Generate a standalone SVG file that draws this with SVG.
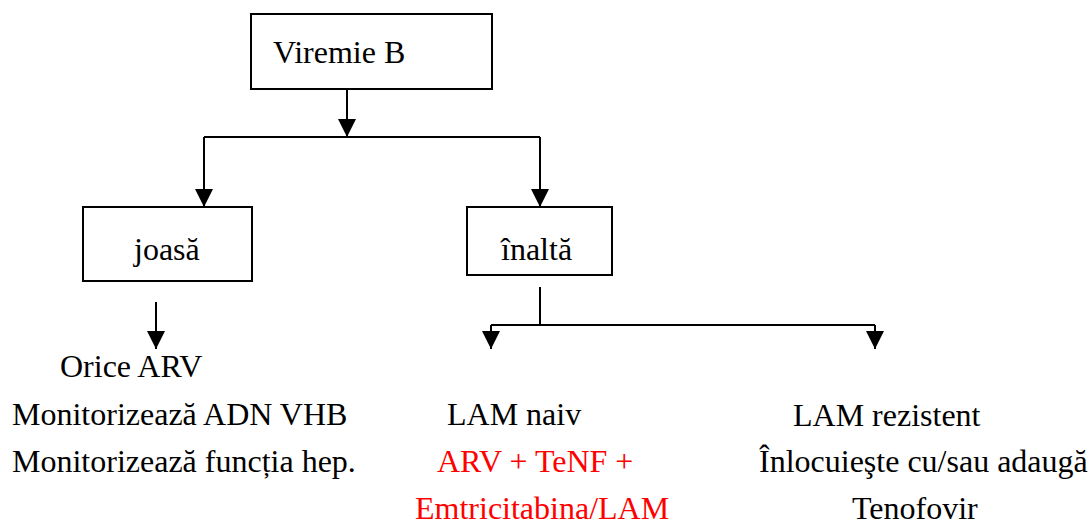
<svg xmlns="http://www.w3.org/2000/svg" width="1091" height="525" viewBox="0 0 1091 525">
<defs>
<marker id="ah" markerUnits="userSpaceOnUse" markerWidth="18" markerHeight="18" viewBox="0 0 16 16" refX="16" refY="8" orient="auto">
<path d="M0,0 L16,8 L0,16 Z" fill="#000"/>
</marker>
</defs>
<style>
.box{fill:#fff;stroke:#000;stroke-width:2}
.red{fill:#ff0000}
.c{fill:none;stroke:#000;stroke-width:2}
</style>
<rect width="1091" height="525" fill="#fff"/>
<g id="connectors">
<path class="c" d="M347,89 V137" marker-end="url(#ah)"/>
<path class="c" d="M204,137 H540"/>
<path class="c" d="M204,137 V207" marker-end="url(#ah)"/>
<path class="c" d="M540,137 V207" marker-end="url(#ah)"/>
<path class="c" d="M156,302 V349" marker-end="url(#ah)"/>
<path class="c" d="M540,287 V325"/>
<path class="c" d="M491,325 H875"/>
<path class="c" d="M491,325 V349" marker-end="url(#ah)"/>
<path class="c" d="M875,325 V349" marker-end="url(#ah)"/>
</g>
<g font-family="Liberation Serif, 'Times New Roman', serif" font-size="32" fill="#000">
<g id="viremie">
<rect class="box" x="251" y="14" width="241" height="75"/>
<text x="273" y="63">Viremie B</text>
</g>
<g id="joasa">
<rect class="box" x="83" y="207" width="169" height="74"/>
<text x="134" y="260">joasă</text>
</g>
<g id="inalta">
<rect class="box" x="467" y="207" width="145" height="68"/>
<text x="501" y="260">înaltă</text>
</g>
<g id="left-text">
<text x="60" y="377">Orice ARV</text>
<text x="12" y="425">Monitorizează ADN VHB</text>
<text x="12" y="472">Monitorizează funcția hep.</text>
</g>
<g id="mid-text">
<text x="447" y="425">LAM naiv</text>
<text class="red" x="437" y="472">ARV + TeNF +</text>
<text class="red" x="415" y="519">Emtricitabina/LAM</text>
</g>
<g id="right-text">
<text x="793" y="426">LAM rezistent</text>
<text x="759" y="472">Înlocuieşte cu/sau adaugă</text>
<text x="852" y="519">Tenofovir</text>
</g>
</g>
</svg>
